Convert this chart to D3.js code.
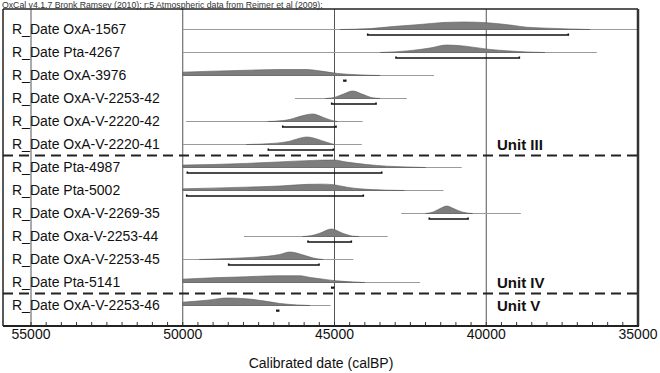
<!DOCTYPE html>
<html>
<head>
<meta charset="utf-8">
<script src="https://cdn.jsdelivr.net/npm/d3@7"></script>
<style>
  body { margin: 0; background: #fff; }
  svg { display: block; font-family: "Liberation Sans", Arial, sans-serif; }
</style>
</head>
<body>
<svg id="chart" width="660" height="373"></svg>
<script>
// sample names, top to bottom
var labels = ["R_Date OxA-1567", "R_Date Pta-4267", "R_Date OxA-3976", "R_Date OxA-V-2253-42",
  "R_Date OxA-V-2220-42", "R_Date OxA-V-2220-41", "R_Date Pta-4987", "R_Date Pta-5002",
  "R_Date OxA-V-2269-35", "R_Date Oxa-V-2253-44", "R_Date OxA-V-2253-45", "R_Date Pta-5141",
  "R_Date OxA-V-2253-46"]

// thin range line of each date (calBP, old -> young)
var ranges = [[50000, 35000], [50000, 36360], [50000, 41720], [46300, 42620], [49890, 44070],
  [50000, 44100], [50000, 40810], [50000, 41410], [42800, 38860], [47980, 43250],
  [50000, 44380], [50000, 42180], [50000, 45130]]

// 95.4% brackets
var brackets = [[43906, 37296], [42973, 38910], [44690, 44630], [45092, 43632], [46706, 44950],
  [47181, 45039], [49850, 43444], [49870, 44050], [41876, 40600], [45873, 44446],
  [48486, 45510], [45090, 45030], [46900, 46840]]

// probability distributions, [calBP, relative density]
var dists = [
  [[44818, 0], [43830, 0.12], [43072, 0.4], [42182, 0.67], [41425, 0.93], [40700, 1], [39975, 0.9], [39118, 0.55], [38657, 0.3], [37998, 0.18], [36581, 0]],
  [[43500, 0], [42512, 0.25], [41853, 0.6], [41303, 1], [40700, 0.85], [39975, 0.45], [39217, 0.2], [38657, 0.07], [38063, 0]],
  [[50000, 0.45], [49000, 0.58], [47900, 0.7], [46800, 0.8], [45900, 0.8], [45500, 0.62], [44900, 0.27], [44250, 0.1], [43500, 0]],
  [[45300, 0], [45000, 0.15], [44700, 0.6], [44400, 1], [44100, 0.6], [43800, 0.15], [43500, 0]],
  [[47200, 0], [46700, 0.12], [46450, 0.3], [46030, 0.8], [45720, 1], [45370, 0.55], [45050, 0.1], [44900, 0]],
  [[47900, 0], [47030, 0.15], [46470, 0.45], [46140, 0.85], [45920, 1], [45590, 0.75], [45260, 0.3], [45000, 0]],
  [[50000, 0.32], [49000, 0.4], [47900, 0.55], [46800, 0.75], [45700, 0.95], [45040, 1], [44600, 0.72], [43940, 0.4], [43280, 0.18], [42400, 0.05], [42000, 0]],
  [[50000, 0.22], [47900, 0.45], [46800, 0.6], [45900, 0.82], [45400, 0.85], [45050, 0.78], [44600, 0.45], [44160, 0.22], [43280, 0.05], [42700, 0]],
  [[42000, 0], [41750, 0.2], [41500, 0.7], [41300, 1], [41100, 0.7], [40800, 0.2], [40450, 0]],
  [[46050, 0], [45750, 0.12], [45480, 0.45], [45100, 1], [44710, 0.4], [44400, 0.05], [44200, 0]],
  [[49450, 0], [48550, 0.12], [47900, 0.25], [47230, 0.42], [46800, 0.68], [46470, 1], [46030, 0.6], [45700, 0.2], [45370, 0]],
  [[50000, 0.45], [49000, 0.63], [47900, 0.77], [46900, 0.9], [46140, 0.9], [45800, 0.67], [45380, 0.45], [44930, 0.22], [44390, 0.08], [44000, 0]],
  [[50000, 0.45], [49200, 0.7], [48550, 1], [47900, 0.9], [47350, 0.62], [46800, 0.27], [46250, 0.08], [45800, 0]]
]

// unit dividers: label drawn on last row of unit, dashed line after it
var units = [
  {name: "Unit III", last: 5},
  {name: "Unit IV", last: 11},
  {name: "Unit V", last: 12}
]

var majorTicks = [55000, 50000, 45000, 40000, 35000]
var header = "OxCal v4.1.7 Bronk Ramsey (2010); r:5 Atmospheric data from Reimer et al (2009);"
var axisTitle = "Calibrated date (calBP)"

var width = 660, height = 373
var box = {left: 3, top: 9, right: 638, bottom: 326}

var svg = d3.select("#chart")

var x = d3.scaleLinear().domain([55000, 35000]).range([31, 638])
var y = d3.scalePoint().domain(d3.range(labels.length)).range([29.5, 305.5])
var h = d3.scaleLinear().domain([0, 1]).range([0, 7.5])

// header
svg.append("text")
  .attr("x", 2).attr("y", 7.5)
  .attr("font-size", 8.7).attr("fill", "#333")
  .text(header)

// grid lines
svg.append("g").selectAll("line")
  .data(majorTicks.slice(0, 4))
  .join("line")
    .attr("x1", d => x(d)).attr("x2", d => x(d))
    .attr("y1", box.top).attr("y2", box.bottom)
    .attr("stroke", "#555").attr("stroke-width", 1)

// minor ticks every 500
svg.append("g").selectAll("line")
  .data(d3.range(35000, 55001, 500))
  .join("line")
    .attr("x1", d => x(d)).attr("x2", d => x(d))
    .attr("y1", box.bottom).attr("y2", box.bottom - 4)
    .attr("stroke", "#333").attr("stroke-width", 1)

// rows
var row = svg.append("g").selectAll("g")
  .data(labels)
  .join("g")
    .attr("transform", (d, i) => `translate(0,${y(i)})`)

row.append("line")
  .attr("x1", (d, i) => x(ranges[i][0])).attr("x2", (d, i) => x(ranges[i][1]))
  .attr("y1", 0).attr("y2", 0)
  .attr("stroke", "#9a9a9a").attr("stroke-width", 1)

var area = d3.area()
  .x(d => x(d[0]))
  .y0(0)
  .y1(d => -h(d[1]))
  .curve(d3.curveMonotoneX)

row.append("path")
  .attr("d", (d, i) => area(dists[i]))
  .attr("fill", "#7d7d7d")
  .attr("stroke", "#5a5a5a")
  .attr("stroke-width", 0.6)

row.append("path")
  .attr("d", (d, i) => {
    var a = x(brackets[i][0]), b = x(brackets[i][1])
    return `M${a},4 V5.5 H${b} V4`
  })
  .attr("fill", "none")
  .attr("stroke", "#111")
  .attr("stroke-width", 1.6)

row.append("text")
  .attr("x", 12).attr("dy", "0.35em")
  .attr("font-size", 14).attr("fill", "#111")
  .text(d => d)

// unit dividers
svg.append("g").selectAll("line")
  .data(units.filter(u => u.last < labels.length - 1))
  .join("line")
    .attr("x1", box.left).attr("x2", box.right)
    .attr("y1", u => (y(u.last) + y(u.last + 1)) / 2 - 0.5)
    .attr("y2", u => (y(u.last) + y(u.last + 1)) / 2 - 0.5)
    .attr("stroke", "#222").attr("stroke-width", 2)
    .attr("stroke-dasharray", "10,6")

svg.append("g").selectAll("text")
  .data(units)
  .join("text")
    .attr("x", 497).attr("y", u => y(u.last))
    .attr("dy", "0.35em")
    .attr("font-size", 15).attr("font-weight", "bold").attr("fill", "#111")
    .text(u => u.name)

// frame
svg.append("line")
  .attr("x1", box.left).attr("x2", box.left).attr("y1", box.top).attr("y2", box.bottom)
  .attr("stroke", "#222").attr("stroke-width", 1.5)
svg.append("line")
  .attr("x1", box.left).attr("x2", box.right).attr("y1", box.top).attr("y2", box.top)
  .attr("stroke", "#222").attr("stroke-width", 1.5)
svg.append("line")
  .attr("x1", box.right).attr("x2", box.right).attr("y1", box.top).attr("y2", box.bottom)
  .attr("stroke", "#333").attr("stroke-width", 2.5)
svg.append("line")
  .attr("x1", box.left).attr("x2", box.right + 1).attr("y1", box.bottom).attr("y2", box.bottom)
  .attr("stroke", "#222").attr("stroke-width", 2)

// tick labels
svg.append("g").selectAll("text")
  .data(majorTicks)
  .join("text")
    .attr("x", d => x(d)).attr("y", 339)
    .attr("text-anchor", "middle")
    .attr("font-size", 14).attr("fill", "#111")
    .text(d => d)

svg.append("text")
  .attr("x", 321).attr("y", 368)
  .attr("text-anchor", "middle")
  .attr("font-size", 14).attr("fill", "#111")
  .text(axisTitle)
</script>
</body>
</html>
